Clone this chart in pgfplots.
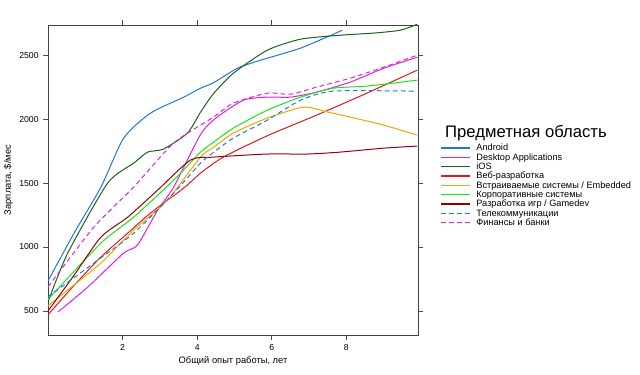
\documentclass[border=0pt]{standalone}
\usepackage{fontspec}
\setmainfont{Liberation Sans}
\usepackage{pgfplots}
\pgfplotsset{compat=1.18}
\definecolor{cAndroid}{RGB}{30,120,220}
\definecolor{cDesk}{RGB}{225,30,225}
\definecolor{cIOS}{RGB}{25,100,25}
\definecolor{cWeb}{RGB}{225,25,25}
\definecolor{cEmb}{RGB}{245,165,0}
\definecolor{cCorp}{RGB}{30,225,30}
\definecolor{cGame}{RGB}{150,0,0}
\begin{document}
\begin{tikzpicture}
\path[use as bounding box] (0,0) rectangle (480pt,281.25pt);
\begin{axis}[
  anchor=south west, at={(36pt,30pt)},
  scale only axis, width=277.5pt, height=232.5pt,
  xmin=0, xmax=9.92, ymin=312, ymax=2736,
  xtick={2,4,6,8}, ytick={500,1000,1500,2000,2500},
  tick pos=both, xticklabel pos=bottom, yticklabel pos=left,
  tick align=outside, major tick length=3.5pt,
  tick style={draw=black!70, line width=0.6pt},
  axis line style={draw=black!75, line width=0.6pt},
  /pgf/number format/assume math mode=true,
  /pgf/number format/1000 sep={},
  tick label style={font=\fontsize{6.5}{7}\selectfont},
  xlabel={Общий опыт работы, лет},
  ylabel={Зарплата, \$/мес},
  label style={font=\fontsize{7}{8}\selectfont},
  xlabel style={yshift=2pt},
  ylabel style={yshift=-2pt},
  every axis plot/.append style={line width=0.75pt, smooth, tension=0.4},
  legend style={at={(1.0595,0.619)}, anchor=north west, draw=none, fill=none,
    font=\fontsize{6.9}{7}\selectfont, inner sep=0pt, row sep=0pt, column sep=4pt,
    nodes={inner sep=0pt, text height=5.6pt, text depth=1.4pt}},
  legend cell align=left,
  legend image code/.code={\draw[#1,sharp plot,line width=1.1pt] (0pt,0pt) -- (22pt,0pt);},
]
\addplot[cAndroid] coordinates {(0,735) (0.7,1109) (1.42,1469) (2.03,1852) (2.75,2047) (3.64,2172) (4.09,2242) (4.44,2285) (5.08,2398) (5.7,2461) (6.77,2555) (7.89,2695)};
\addlegendentry{Android}
\addplot[cDesk] coordinates {(0.27,492) (1.07,688) (2.03,953) (2.4,1016) (2.94,1289) (3.37,1469) (4.09,1880) (4.5,2008) (5.24,2148) (5.88,2172) (6.5,2172) (7.2,2211) (8.1,2289) (9,2398) (9.9,2484)};
\addlegendentry{Desktop Applications}
\addplot[cIOS] coordinates {(0,570) (0.53,953) (1.6,1500) (2.3,1656) (2.67,1742) (3.1,1766) (3.74,1891) (4.09,2055) (4.44,2200) (4.97,2359) (5.88,2539) (6.77,2625) (7.83,2656) (8.7,2672) (9.44,2695) (9.9,2742)};
\addlegendentry{iOS}
\addplot[cWeb] coordinates {(0,470) (0.7,700) (1.42,922) (2.14,1109) (2.75,1266) (3.64,1461) (4.09,1578) (4.7,1703) (5.88,1870) (7.2,2031) (8.55,2203) (9.9,2383)};
\addlegendentry{Веб-разработка}
\addplot[cEmb] coordinates {(0,540) (0.53,664) (1.42,875) (2.3,1133) (3.2,1367) (4.09,1703) (4.44,1780) (4.97,1891) (5.88,2008) (6.85,2094) (7.5,2055) (8.1,2016) (9,1953) (9.9,1875)};
\addlegendentry{Встраиваемые системы / Embedded}
\addplot[cCorp] coordinates {(0,590) (1.42,1031) (2.3,1234) (3.37,1523) (4.09,1742) (4.44,1820) (4.97,1930) (5.88,2070) (6.77,2172) (7.65,2242) (8.55,2258) (9.9,2305)};
\addlegendentry{Корпоративные системы}
\addplot[cGame] coordinates {(0,500) (0.7,780) (1.42,1078) (2.14,1234) (2.94,1445) (3.82,1680) (4.44,1703) (5.88,1727) (6.95,1727) (7.83,1742) (9,1773) (9.9,1789)};
\addlegendentry{Разработка игр / Gamedev}
\addplot[cAndroid, dash pattern=on 3.5pt off 2.5pt] coordinates {(0,610) (1.23,875) (2.3,1109) (3.37,1422) (4.09,1656) (4.44,1740) (4.97,1852) (5.88,1992) (6.77,2148) (7.65,2219) (9.8,2219)};
\addlegendentry{Телекоммуникации}
\addplot[cDesk, dash pattern=on 3.5pt off 2.5pt] coordinates {(0,688) (1.23,1156) (2.3,1469) (3.37,1813) (4.44,2016) (4.97,2125) (5.88,2203) (6.5,2195) (7.2,2250) (8.1,2320) (9,2406) (9.9,2500)};
\addlegendentry{Финансы и банки}
\end{axis}
\node[font=\fontsize{12.5}{13}\selectfont] at (394.5pt,181.5pt) {Предметная область};
\end{tikzpicture}
\end{document}
